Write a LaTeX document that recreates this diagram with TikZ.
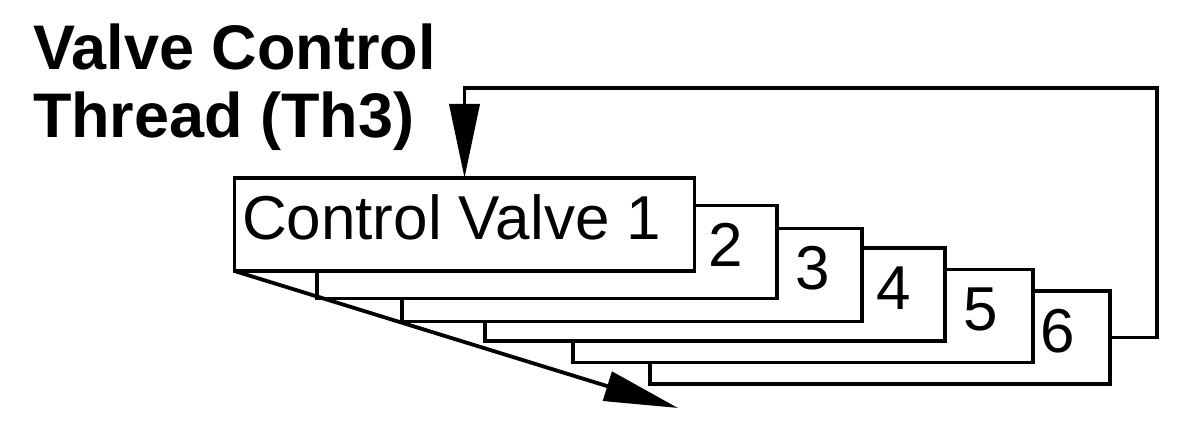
\documentclass[tikz,border=0pt]{standalone}
\usepackage{fontspec}
\setmainfont{Liberation Sans}
\usetikzlibrary{arrows.meta}
\begin{document}
\begin{tikzpicture}[x=0.5pt,y=-0.5pt,
  vbox/.style={draw=black,fill=white,line width=1.9pt,rectangle,minimum width=230pt,minimum height=46.5pt,inner sep=0pt,outer sep=0pt},
  lbl/.style={anchor=base west,inner sep=0pt,outer sep=0pt,font=\fontsize{31}{34}\selectfont},
  ttl/.style={anchor=base west,inner sep=0pt,outer sep=0pt,font=\bfseries\fontsize{31.5}{34}\selectfont},
  conn/.style={draw=black,line width=1.9pt},
  bigtip/.style={-{Triangle[length=37pt,width=15pt]}}
]
\useasboundingbox (0,0) rectangle (1180,433);
\node[ttl] (t1) at (33,70) {Valve Control};
\node[ttl] (t2) at (33,138) {Thread (Th3)};
\node[vbox] (b6) at (880,337.5) {};
\node[vbox] (b5) at (803,316) {};
\node[vbox] (b4) at (715,294.5) {};
\node[vbox] (b3) at (632,275) {};
\node[vbox] (b2) at (547,252) {};
\node[vbox] (b1) at (464.5,224.5) {};
\node[lbl] (l1) at (242,240) {Control Valve 1};
\node[lbl] (l2) at (708,267) {2};
\node[lbl] (l3) at (795,290) {3};
\node[lbl] (l4) at (876,310) {4};
\node[lbl] (l5) at (963,330) {5};
\node[lbl] (l6) at (1040,352) {6};
\coordinate (c1) at (1157,88);
\coordinate (c2) at (678,408);
\draw[conn,bigtip] (b6.east) -| (c1) -| (b1.north);
\draw[conn,bigtip] (b1.south west) -- (c2);
\end{tikzpicture}
\end{document}
